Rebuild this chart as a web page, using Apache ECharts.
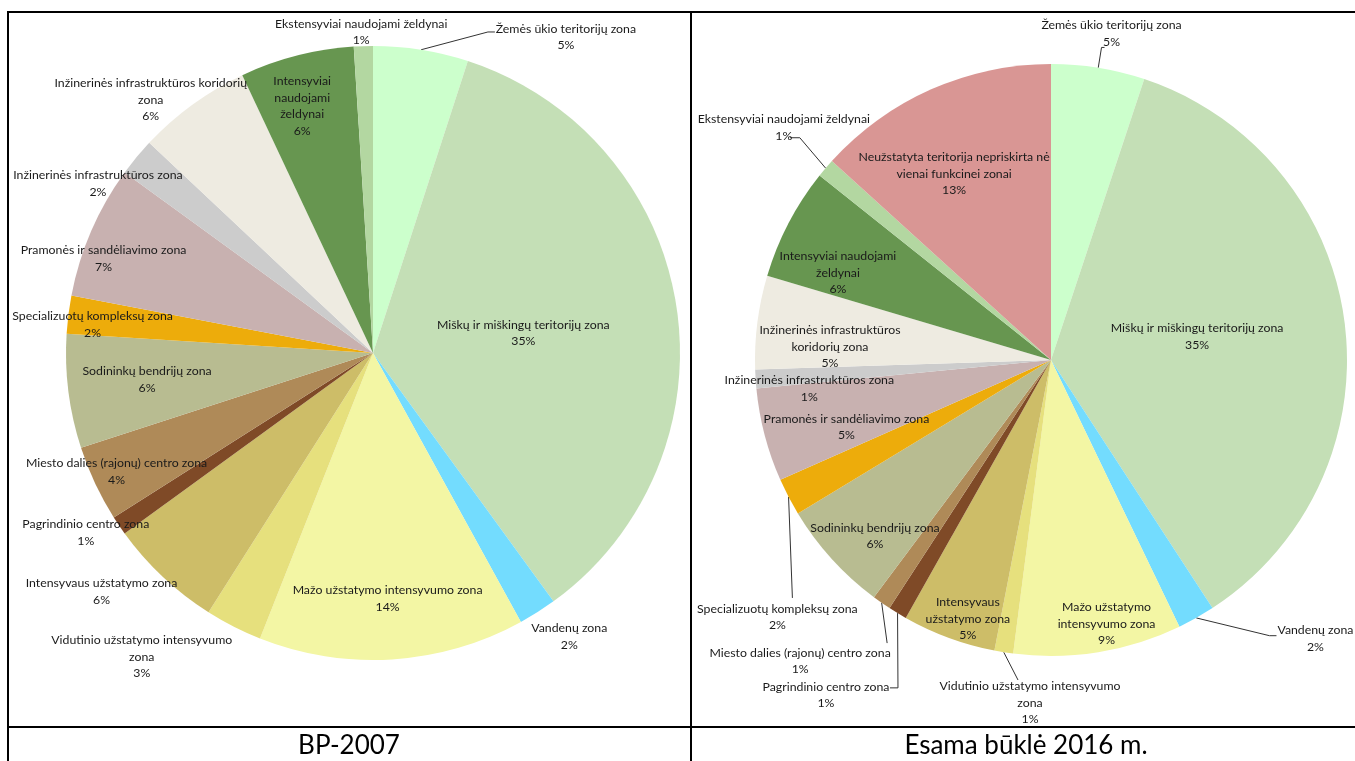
<!DOCTYPE html>
<html>
<head>
<meta charset="utf-8">
<script src="https://cdn.jsdelivr.net/npm/echarts@6/dist/echarts.min.js"></script>
<style>
  html, body { margin: 0; padding: 0; background: #fff; }
  #chart { width: 1355px; height: 761px; }
</style>
</head>
<body>
<div id="chart"></div>
<script>
// Zone names as printed on the slices (line breaks included), clockwise from 12 o'clock
const labels2007 = [
  'Žemės ūkio teritorijų zona',
  'Miškų ir miškingų teritorijų zona',
  'Vandenų zona',
  'Mažo užstatymo intensyvumo zona',
  'Vidutinio užstatymo intensyvumo\nzona',
  'Intensyvaus užstatymo zona',
  'Pagrindinio centro zona',
  'Miesto dalies (rajonų) centro zona',
  'Sodininkų bendrijų zona',
  'Specializuotų kompleksų zona',
  'Pramonės ir sandėliavimo zona',
  'Inžinerinės infrastruktūros zona',
  'Inžinerinės infrastruktūros koridorių\nzona',
  'Intensyviai\nnaudojami\nželdynai',
  'Ekstensyviai naudojami želdynai'
];
const share2007 = [5, 35, 2, 14, 3, 6, 1, 4, 6, 2, 7, 2, 6, 6, 1];

const labels2016 = [
  'Žemės ūkio teritorijų zona',
  'Miškų ir miškingų teritorijų zona',
  'Vandenų zona',
  'Mažo užstatymo\nintensyvumo zona',
  'Vidutinio užstatymo intensyvumo\nzona',
  'Intensyvaus\nužstatymo zona',
  'Pagrindinio centro zona',
  'Miesto dalies (rajonų) centro zona',
  'Sodininkų bendrijų zona',
  'Specializuotų kompleksų zona',
  'Pramonės ir sandėliavimo zona',
  'Inžinerinės infrastruktūros zona',
  'Inžinerinės infrastruktūros\nkoridorių zona',
  'Intensyviai naudojami\nželdynai',
  'Ekstensyviai naudojami želdynai',
  'Neužstatyta teritorija nepriskirta nė\nvienai funkcinei zonai'
];
const share2016 = [5, 35, 2, 9, 1, 5, 1, 1, 6, 2, 5, 1, 5, 6, 1, 13];

const captions = ['BP-2007', 'Esama būklė 2016 m.'];

// Zone colours in label order; the last one marks land outside any zone
const zoneColors = [
  '#CCFFCC', '#C4DFB6', '#73DCFE', '#F3F6A4', '#E6E07D', '#CDBD68',
  '#7F4A27', '#AF8A58', '#B8BC91', '#EDAC0B', '#C8B1B0', '#CCCCCC',
  '#EEEBE1', '#679650', '#B3D7A1', '#D99694'
];

// Label placement: [angle in degrees clockwise from 12 o'clock, distance as a share of the radius]
const spots2007 = [
  [31.4, 1.206], [82.4, 0.494], [145.3, 1.123], [176.6, 0.801], [217.3, 1.243],
  [228.7, 1.177], [238.0, 1.103], [245.2, 0.920], [263.3, 0.741], [275.8, 0.918],
  [289.3, 0.930], [301.6, 1.052], [318.7, 1.097], [344.0, 0.837], [357.9, 1.046]
];
const spots2016 = [
  [10.5, 1.122], [80.9, 0.500], [136.5, 1.298], [168.1, 0.910], [183.5, 1.161],
  [197.8, 0.919], [213.9, 1.363], [219.8, 1.324], [225.0, 0.841], [226.8, 1.268],
  [251.9, 0.727], [263.3, 0.822], [273.4, 0.748], [292.3, 0.778], [311.0, 1.196],
  [332.5, 0.709]
];
// Leader lines: label index -> [bend point, end point], offsets from the label centre
const leaders2007 = { 0: [[-78, -5], [-71, -5]] };
const leaders2016 = {
  0: [[-10, 14], [-7, 14]],
  2: [[-46, -3], [-39, -3]],
  4: [[-12, -23], [-12, -23]],
  6: [[72, -7], [64, -7]],
  7: [[87, -18], [87, -18]],
  9: [[15, -19], [15, -19]],
  14: [[16, 10], [6, 10]]
};

const FONT = 'Lato, "Liberation Sans", sans-serif';

function buildPie(labels, values, center, radius, spots, leaders) {
  const total = values.reduce((a, b) => a + b, 0);
  const mids = [];
  let acc = 0;
  values.forEach(v => { mids.push((acc + v / 2) / total * 360); acc += v; });
  const rad = d => d * Math.PI / 180;
  const polar = (deg, r) => [center[0] + r * Math.sin(rad(deg)), center[1] - r * Math.cos(rad(deg))];

  return {
    type: 'pie',
    center: center,
    radius: radius,
    startAngle: 90,
    clockwise: true,
    avoidLabelOverlap: false,
    silent: true,
    emphasis: { disabled: true },
    itemStyle: { borderWidth: 0 },
    label: {
      show: true,
      position: 'outside',
      formatter: p => labels[p.dataIndex] + '\n' + p.value + '%',
      fontFamily: FONT,
      fontSize: 12.3,
      lineHeight: 16.5,
      color: '#1a1a1a'
    },
    labelLine: { show: false, smooth: false, lineStyle: { color: '#333', width: 1 } },
    data: values.map((v, i) => ({
      name: labels[i].replace(/\n/g, ' '),
      value: v,
      itemStyle: { color: zoneColors[i] },
      labelLine: { show: !!leaders[i] }
    })),
    labelLayout: p => {
      const s = spots[p.dataIndex];
      const [x, y] = polar(s[0], s[1] * radius);
      const out = { x: x, y: y, align: 'center', verticalAlign: 'middle' };
      const l = leaders[p.dataIndex];
      if (l) {
        out.labelLinePoints = [
          polar(mids[p.dataIndex], radius),
          [x + l[0][0], y + l[0][1]],
          [x + l[1][0], y + l[1][1]]
        ];
      }
      return out;
    }
  };
}

const chart = echarts.init(document.getElementById('chart'), null, { renderer: 'canvas' });

// Table frame around the two pies and their captions
const frame = [
  [8, 12, 1355, 12],
  [8, 11, 8, 761],
  [691, 11, 691, 761],
  [8, 727, 1355, 727]
].map(([x1, y1, x2, y2]) => ({
  type: 'line',
  shape: { x1, y1, x2, y2 },
  style: { stroke: '#000', lineWidth: 2 },
  silent: true
}));

const captionText = [[349, 746], [1026, 746]].map(([x, y], i) => ({
  type: 'text',
  x: x,
  y: y,
  style: {
    text: captions[i],
    align: 'center',
    verticalAlign: 'middle',
    font: '26px ' + FONT,
    fill: '#000'
  },
  silent: true
}));

chart.setOption({
  animation: false,
  backgroundColor: '#fff',
  graphic: frame.concat(captionText),
  series: [
    buildPie(labels2007, share2007, [373, 353], 307, spots2007, leaders2007),
    buildPie(labels2016, share2016, [1051, 360], 296, spots2016, leaders2016)
  ]
});
</script>
</body>
</html>
